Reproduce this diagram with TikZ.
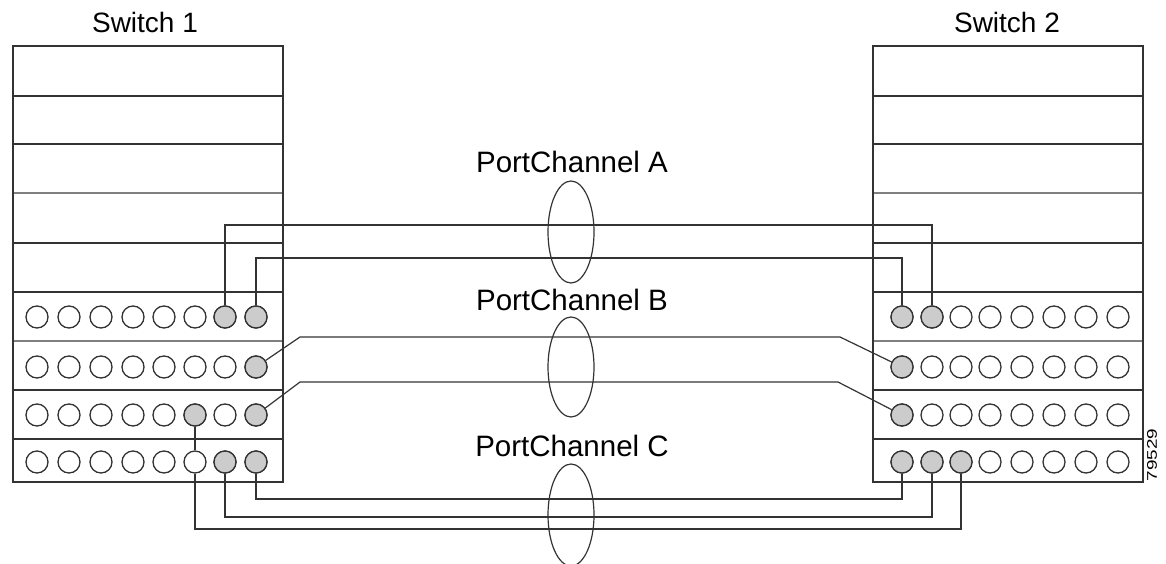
\documentclass[tikz,border=0pt]{standalone}
\usepackage{fontspec}
\setmainfont{Liberation Sans}
\usetikzlibrary{shapes.geometric}
\begin{document}
\begin{tikzpicture}[x=1pt,y=-1pt,
  frame/.style={draw=black!80,line width=1.2pt},
  sep/.style={draw=black!80,line width=1.2pt},
  sepgray/.style={draw=black!50,line width=2.2pt},
  port/.style={circle,draw=black!80,line width=1.3pt,minimum size=22pt,inner sep=0pt,fill=white},
  portused/.style={port,fill=black!20},
  link/.style={draw=black!80,line width=1.2pt},
  bundle/.style={ellipse,draw=black!80,line width=1.2pt,minimum width=46pt,minimum height=102pt,inner sep=0pt},
  lbl/.style={font=\fontsize{28}{30}\selectfont,anchor=base,inner sep=0pt},
  pclbl/.style={font=\fontsize{29.5}{31}\selectfont,anchor=base,inner sep=0pt}]
\useasboundingbox (0,0) rectangle (1166,564);
% switch frames
\foreach \xl/\xr in {13/283,873/1143}{
  \foreach \yy in {96,144,243,292,390,439}{\draw[sep] (\xl,\yy) -- (\xr,\yy);}
  \foreach \yy in {193,341}{\draw[sepgray] (\xl,\yy) -- (\xr,\yy);}
  \draw[frame] (\xl,46) rectangle (\xr,482);
}
% labels
\node[lbl] (s1) at (145,33) {Switch 1};
\node[lbl] (s2) at (1007,33) {Switch 2};
\node[pclbl] (pca) at (572,173) {PortChannel A};
\node[pclbl] (pcb) at (572,310) {PortChannel B};
\node[pclbl] (pcc) at (572,456) {PortChannel C};
\node[font=\fontsize{14}{14}\selectfont,rotate=90,xscale=1.35,inner sep=0pt] (fig) at (1152,455) {79529};
% ports
\foreach \r/\yy in {1/317,2/367,3/415,4/462}{
  \foreach \c/\xx in {1/37,2/69,3/101,4/133,5/164,6/195,7/225,8/256}{
    \node[port] (p1-\r-\c) at (\xx,\yy) {};
  }
  \foreach \c/\xx in {1/902,2/932,3/961,4/990,5/1022,6/1054,7/1086,8/1118}{
    \node[port] (p2-\r-\c) at (\xx,\yy) {};
  }
}
\foreach \n in {1-1-7,1-1-8,1-2-8,1-3-6,1-3-8,1-4-7,1-4-8,2-1-1,2-1-2,2-2-1,2-3-1,2-4-1,2-4-2,2-4-3}{
  \node[portused] at (p\n) {};
}
% bundles
\node[bundle] (ea) at (571,232) {};
\node[bundle,minimum height=100pt] (eb) at (571,367) {};
\node[bundle] (ec) at (571,515) {};
% PortChannel A
\draw[link] (p1-1-7) -- (p1-1-7 |- 0,225) -- (p2-1-2 |- 0,225) -- (p2-1-2);
\draw[link] (p1-1-8) -- (p1-1-8 |- 0,258) -- (p2-1-1 |- 0,258) -- (p2-1-1);
% PortChannel B
\coordinate (b1l) at (300,337); \coordinate (b1r) at (840,337);
\coordinate (b2l) at (300,382); \coordinate (b2r) at (838,382);
\draw[link] (p1-2-8) -- (b1l) -- (b1r) -- (p2-2-1);
\draw[link] (p1-3-8) -- (b2l) -- (b2r) -- (p2-3-1);
% PortChannel C
\draw[link] (p1-4-8) -- (p1-4-8 |- 0,499) -- (p2-4-1 |- 0,499) -- (p2-4-1);
\draw[link] (p1-4-7) -- (p1-4-7 |- 0,517) -- (p2-4-2 |- 0,517) -- (p2-4-2);
\draw[link] (p1-3-6) -- (p1-4-6);
\draw[link] (p1-4-6) -- (p1-4-6 |- 0,529) -- (p2-4-3 |- 0,529) -- (p2-4-3);
\end{tikzpicture}
\end{document}
